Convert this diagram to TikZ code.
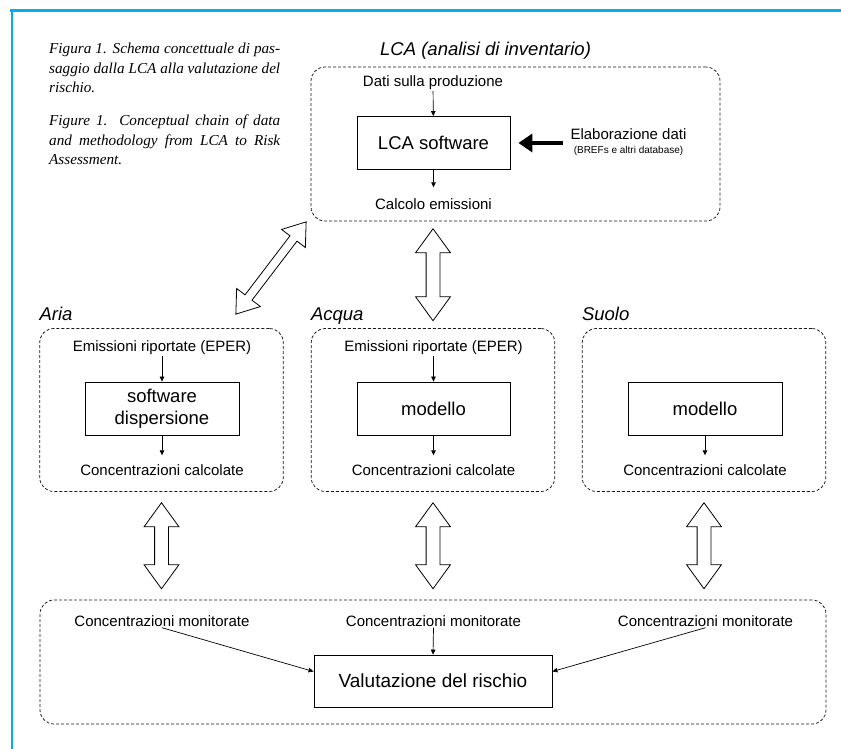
\documentclass[tikz,border=0pt]{standalone}
\usepackage{fontspec}
\setmainfont{Liberation Sans}
\newfontfamily\capfont{Liberation Serif}
\usetikzlibrary{arrows.meta,shapes.arrows,calc}
\definecolor{framecyan}{HTML}{00AEEF}
\begin{document}
\begin{tikzpicture}[x=1pt,y=-1pt,
    area/.style={draw=black!90, dash pattern=on 3pt off 2pt, line width=0.75pt, rounded corners=14pt},
    box/.style={draw, line width=0.8pt, align=center, font=\fontsize{18.5}{22}\selectfont},
    lbl/.style={font=\fontsize{15}{18}\selectfont, inner sep=1pt},
    head/.style={font=\fontsize{18.5}{22}\selectfont\itshape, anchor=base west, inner sep=0pt},
    captext/.style={anchor=north west, inner sep=0pt, align=left, font=\capfont\itshape\fontsize{15.2}{19.3}\selectfont},
    arr/.style={-{Triangle[length=5pt,width=4.5pt]}, line width=0.7pt},
    hollow/.style={double arrow, draw, fill=white, line width=0.8pt, inner sep=6.5pt, minimum width=0pt,
      double arrow head extend=10.5pt, double arrow tip angle=72}]
  \useasboundingbox (0,0) rectangle (841,749);
  \draw[framecyan, line width=2.5pt] (10,10.7) -- (841,10.7);
  \draw[framecyan, line width=2.5pt] (12,9.5) -- (12,749);

  \node[captext] (capit) at (49,43) {\makebox[231pt][s]{Figura 1. Schema concettuale di pas-}\\
    \makebox[231pt][s]{saggio dalla LCA alla valutazione del}\\ rischio.};
  \node[captext] (capen) at (49,115) {\makebox[231pt][s]{Figure 1. Conceptual chain of data}\\
    \makebox[231pt][s]{and methodology from LCA to Risk}\\ Assessment.};

  \node[area, minimum width=409, minimum height=154] (lcaarea) at (515.5,144) {};
  \node[head] (lcahead) at (380,56) {LCA (analisi di inventario)};
  \node[lbl] (dati) at (433,83) {Dati sulla produzione};
  \node[box, minimum width=153, minimum height=53] (lcasw) at (433.5,143) {LCA software};
  \node[lbl] (calcolo) at (433.5,204) {Calcolo emissioni};
  \node[lbl] (elab) at (628.5,134) {Elaborazione dati};
  \node[font=\fontsize{10}{12}\selectfont, inner sep=1pt] (brefs) at (628.5,151) {(BREFs e altri database)};
  \coordinate (elabtail) at (563,143);
  \draw[arr] (dati) -- (lcasw);
  \draw[arr, shorten >=10pt] (lcasw) -- (calcolo);
  \draw[line width=4.5pt, -{Triangle[length=14pt,width=18pt]}] (elabtail) -- ([xshift=8pt]lcasw.east);

  \node[area, minimum width=243.5, minimum height=163] (aria) at (161.5,410) {};
  \node[area, minimum width=243.5, minimum height=163] (acqua) at (433,410) {};
  \node[area, minimum width=243.5, minimum height=163] (suolo) at (704,410) {};
  \node[head] at ([yshift=8pt]aria.north west) {Aria};
  \node[head] at ([yshift=8pt]acqua.north west) {Acqua};
  \node[head] at ([yshift=8pt]suolo.north west) {Suolo};

  \node[lbl] (emia) at (162,348) {Emissioni riportate (EPER)};
  \node[box, minimum width=154, minimum height=53] (swa) at (162,408.5) {software\\dispersione};
  \node[lbl] (cca) at (162,470) {Concentrazioni calcolate};
  \draw[arr] (emia) -- (swa);
  \draw[arr, shorten >=8pt] (swa) -- (cca);

  \node[lbl] (emiq) at (433.5,348) {Emissioni riportate (EPER)};
  \node[box, minimum width=153, minimum height=53] (modq) at (433.5,408.5) {modello};
  \node[lbl] (ccq) at (433.5,470) {Concentrazioni calcolate};
  \draw[arr] (emiq) -- (modq);
  \draw[arr, shorten >=8pt] (modq) -- (ccq);

  \node[box, minimum width=154, minimum height=53] (mods) at (705,408.5) {modello};
  \node[lbl] (ccs) at (705,470) {Concentrazioni calcolate};
  \draw[arr, shorten >=8pt] (mods) -- (ccs);

  \node[area, minimum width=786, minimum height=124] (bottom) at (433,662) {};
  \node[lbl] (monl) at (162,621) {Concentrazioni monitorate};
  \node[lbl] (monc) at (433.5,621) {Concentrazioni monitorate};
  \node[lbl] (monr) at (705.5,621) {Concentrazioni monitorate};
  \node[box, font=\fontsize{19}{22}\selectfont, minimum width=238, minimum height=52] (valut) at (433,681) {Valutazione del rischio};
  \draw[arr] (monl.south) -- ([yshift=9.5pt]valut.west);
  \draw[arr] (monc.south) -- (valut.north);
  \draw[arr] (monr.south) -- ([yshift=9.5pt]valut.east);

  \node[hollow, minimum height=92, rotate=90] (up) at ($(lcaarea.south -| acqua.north)!.5!(acqua.north)$) {};
  \node[hollow, minimum height=116, rotate=52.7, inner sep=4pt, double arrow tip angle=71] (diag) at (271,268) {};
  \foreach \b in {aria,acqua,suolo}
    \node[hollow, minimum height=86, rotate=90] at ($(\b.south)!.5!(\b.south |- bottom.north)$) {};
\end{tikzpicture}
\end{document}
